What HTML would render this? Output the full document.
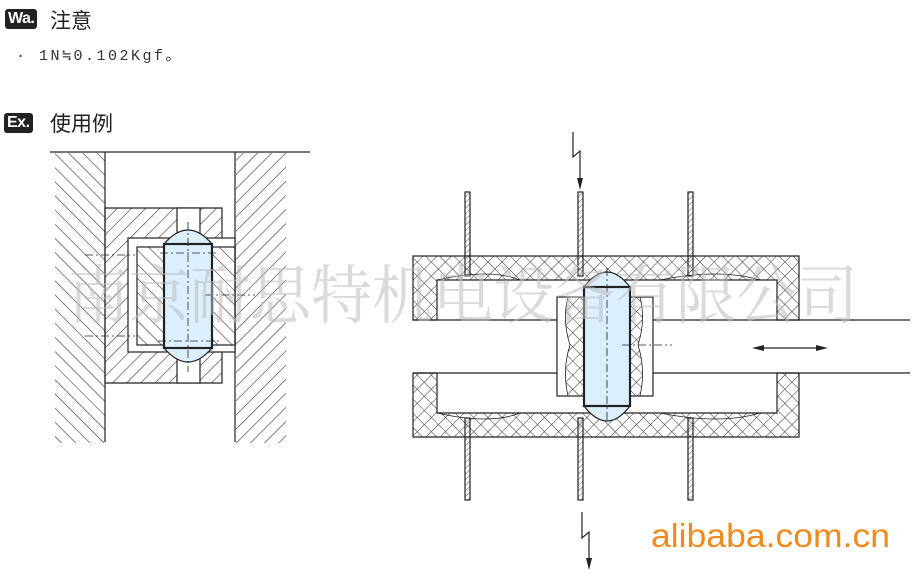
<!DOCTYPE html>
<html><head><meta charset="utf-8"><style>
body{margin:0;background:#fff;width:924px;height:578px;overflow:hidden;position:relative;font-family:"Liberation Sans","Noto Sans CJK SC",sans-serif}
.t{position:absolute}
</style></head><body>
<div class="t" style="left:5px;top:9px;background:#222;color:#fff;font-weight:bold;font-size:16px;line-height:20px;padding:0 3px;border-radius:3px;letter-spacing:-0.5px">Wa.</div>
<div class="t" style="left:50px;top:5px;font-size:21px;color:#222">注意</div>
<div class="t" style="left:16px;top:44px;font-family:'Liberation Mono','Noto Sans CJK SC',monospace;font-size:15px;color:#333;letter-spacing:2.5px">· 1N≒0.102Kgf。</div>
<div class="t" style="left:4px;top:113px;background:#222;color:#fff;font-weight:bold;font-size:16px;line-height:20px;padding:0 3px;border-radius:3px;letter-spacing:-0.5px">Ex.</div>
<div class="t" style="left:50px;top:108px;font-size:21px;color:#222">使用例</div>
<svg class="t" style="left:0;top:0" width="924" height="578">
<defs>
<pattern id="h1" width="10" height="10" patternUnits="userSpaceOnUse" patternTransform="rotate(45)"><line x1="0" y1="0" x2="0" y2="10" stroke="#333" stroke-width="1.2"/></pattern>
<pattern id="h2" width="10" height="10" patternUnits="userSpaceOnUse" patternTransform="rotate(-45)"><line x1="0" y1="0" x2="0" y2="10" stroke="#333" stroke-width="1.2"/></pattern>
<pattern id="h3" width="4" height="4" patternUnits="userSpaceOnUse" patternTransform="rotate(45)"><line x1="0" y1="0" x2="0" y2="4" stroke="#333" stroke-width="0.8"/></pattern>
<pattern id="x" width="10" height="10" patternUnits="userSpaceOnUse" patternTransform="rotate(45)"><path d="M0 0V10M0 0H10" stroke="#333" stroke-width="1"/></pattern>
</defs>
<g stroke="#222" stroke-width="1.2" fill="none">
<line x1="50" y1="152" x2="310" y2="152"/>
<rect x="55" y="153" width="50" height="290" fill="url(#h2)" stroke="none"/>
<rect x="236" y="153" width="50" height="290" fill="url(#h1)" stroke="none"/>
<line x1="105" y1="152" x2="105" y2="442"/>
<line x1="235" y1="152" x2="235" y2="442"/>
<path d="M105 208H222V240H235V350H222V383H105Z" fill="url(#h1)"/>
<rect x="128" y="238" width="107" height="114" fill="#fff"/>
<rect x="137" y="247" width="98" height="98" fill="url(#h2)"/>
<rect x="177" y="208" width="23" height="32" fill="#fff"/>
<rect x="177" y="352" width="23" height="31" fill="#fff"/>
<path d="M164 244Q188 216 212 244Z" fill="#dcefff"/>
<path d="M164 348Q188 376 212 348Z" fill="#dcefff"/>
<rect x="164" y="244" width="48" height="104" fill="#dcefff" stroke-width="2.2"/>
<line x1="188" y1="222" x2="188" y2="372" stroke-dasharray="8,3,2,3" stroke-width="0.8"/>
<line x1="85" y1="255" x2="135" y2="255" stroke-dasharray="8,3,2,3" stroke-width="0.8"/>
<line x1="85" y1="336" x2="135" y2="336" stroke-dasharray="8,3,2,3" stroke-width="0.8"/>
<line x1="160" y1="253" x2="218" y2="253" stroke-dasharray="8,3,2,3" stroke-width="0.8"/>
<line x1="158" y1="341" x2="220" y2="341" stroke-dasharray="8,3,2,3" stroke-width="0.8"/>
<line x1="205" y1="295" x2="255" y2="295" stroke-dasharray="8,3,2,3" stroke-width="0.8"/>
<path d="M413 256H799V320H777V280H437V320H413Z" fill="url(#x)"/>
<path d="M413 437H799V373H777V413H437V373H413Z" fill="url(#x)"/>
<line x1="413" y1="320" x2="437" y2="320"/><line x1="777" y1="320" x2="910" y2="320"/>
<line x1="413" y1="373" x2="437" y2="373"/><line x1="777" y1="373" x2="910" y2="373"/>
<line x1="437" y1="320" x2="557" y2="320"/><line x1="437" y1="373" x2="557" y2="373"/>
<line x1="653" y1="320" x2="777" y2="320"/><line x1="653" y1="373" x2="777" y2="373"/>
<rect x="557" y="297" width="96" height="99" fill="#fff"/>
<path d="M568 297H640Q646 320 638 345Q646 370 640 396H568Q562 370 570 345Q562 320 568 297Z" fill="url(#x)" stroke-width="0.8"/>
<path d="M584 287Q607 257 630 287Z" fill="#dcefff"/>
<path d="M584 406Q607 436 630 406Z" fill="#dcefff"/>
<rect x="584" y="287" width="46" height="119" fill="#dcefff" stroke-width="2.2"/>
<line x1="607" y1="268" x2="607" y2="420" stroke-dasharray="8,3,2,3" stroke-width="0.8"/>
<line x1="622" y1="345" x2="672" y2="345" stroke-dasharray="8,3,2,3" stroke-width="0.8"/>
<path d="M437 280Q490 268 520 280M660 280Q720 268 760 280M437 413Q490 425 520 413M660 413Q720 425 760 413" stroke-width="0.8"/>
<g fill="url(#h3)">
<rect x="465" y="192" width="5" height="84"/><rect x="578" y="192" width="5" height="84"/><rect x="688" y="192" width="5" height="84"/>
<rect x="465" y="418" width="5" height="82"/><rect x="578" y="418" width="5" height="82"/><rect x="688" y="418" width="5" height="82"/>
</g>
<path d="M573 132V157L580 151V180"/>
<path d="M582 512V538L589 532V560"/>
<line x1="758" y1="348" x2="822" y2="348"/>
</g>
<path d="M577 178H583L580 190Z" fill="#222"/>
<path d="M586 558H592L589 570Z" fill="#222"/>
<path d="M752 348L764 345V351Z M828 348L816 345V351Z" fill="#222"/>
<text x="68" y="318" font-size="64" fill="#bbb" fill-opacity="0.55" font-family="'Noto Serif CJK SC',serif" textLength="790" lengthAdjust="spacingAndGlyphs">南京耐思特机电设备有限公司</text>
<text x="651" y="547" font-size="33" fill="#f08a1c" font-family="'Liberation Sans',sans-serif" textLength="239" lengthAdjust="spacingAndGlyphs">alibaba.com.cn</text>
</svg>
</body></html>
